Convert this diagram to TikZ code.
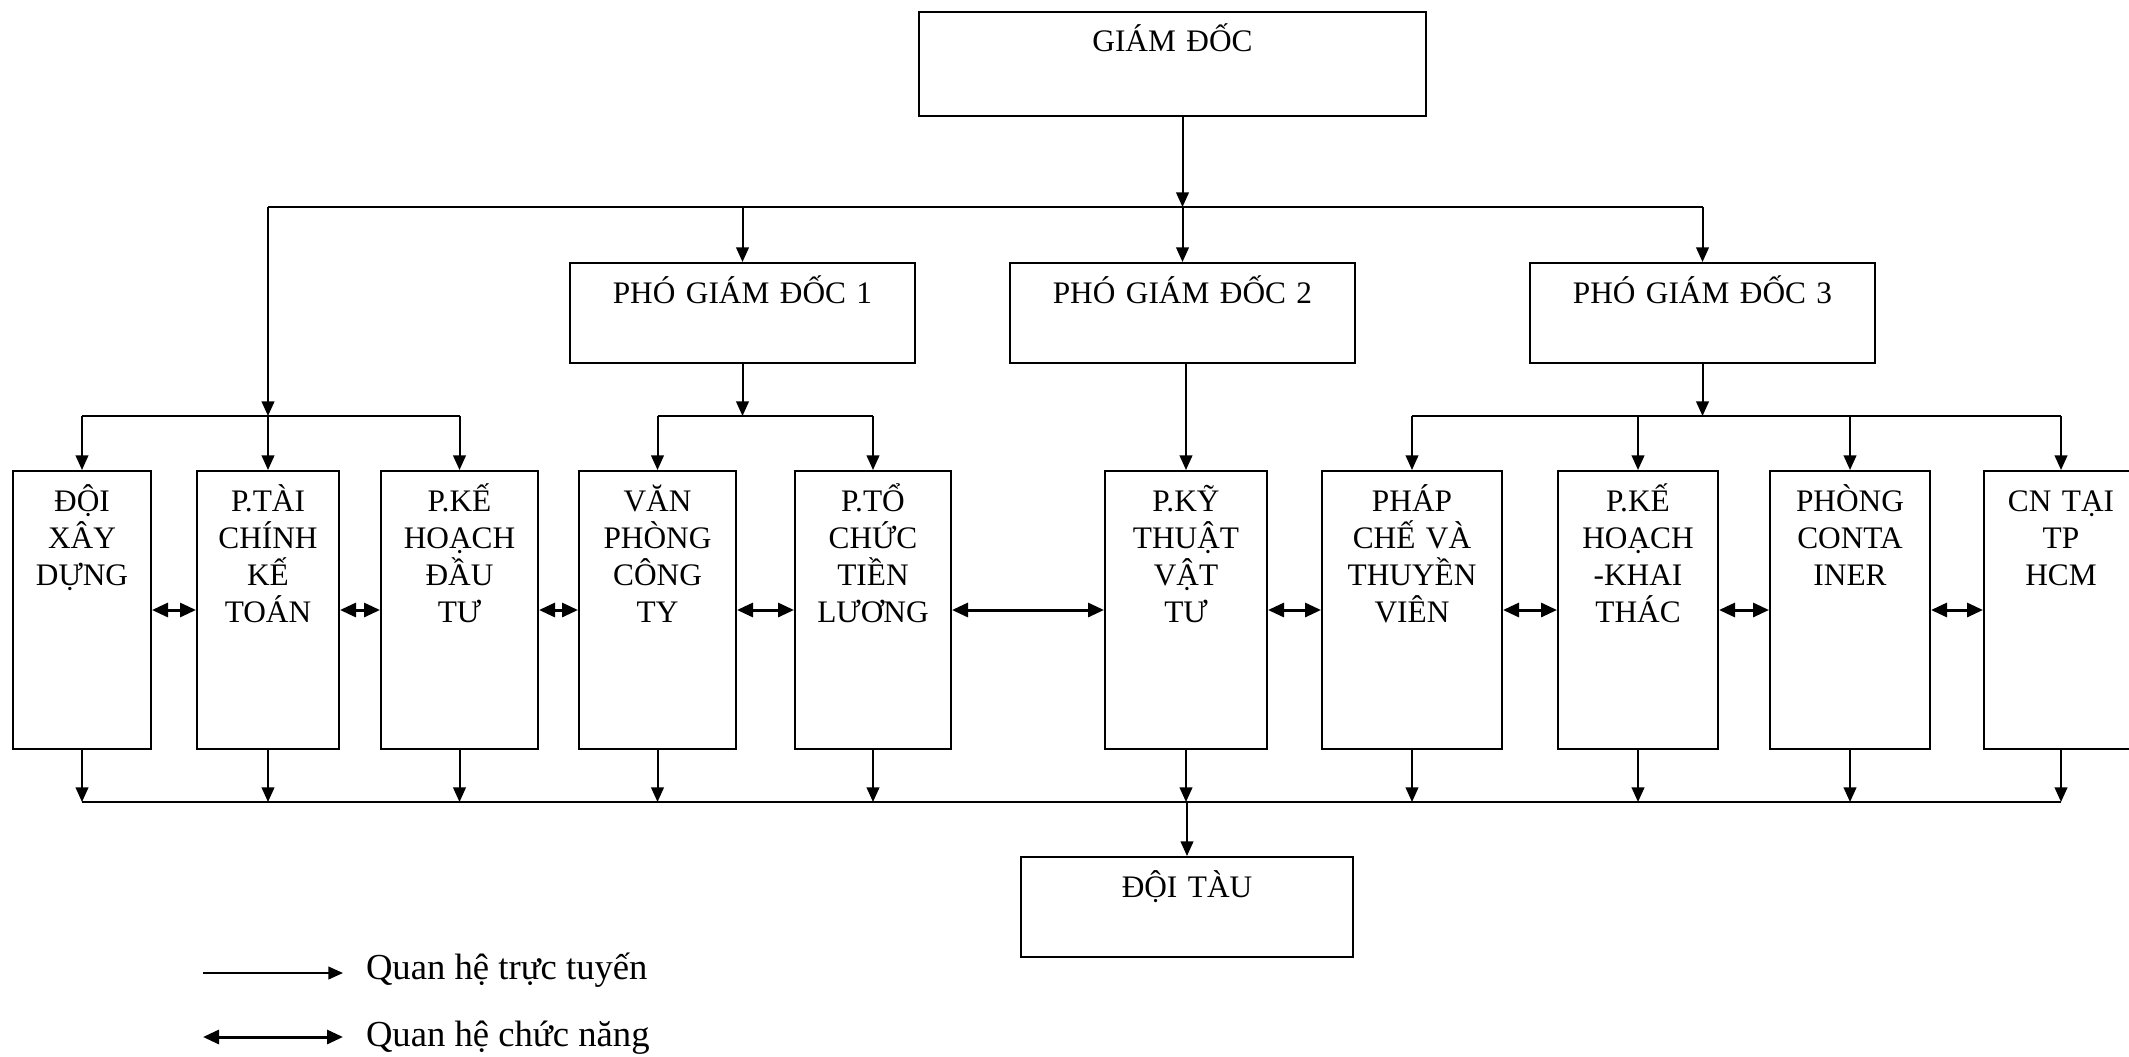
\documentclass[tikz,border=0pt]{standalone}
\usepackage{fontspec}
\setmainfont{Liberation Serif}
\usetikzlibrary{arrows.meta}

\tikzset{every picture/.style={line width=1.5pt}}
\tikzset{
  box/.style={draw, inner sep=0pt, align=center, anchor=north west, text height=30pt,
    font=\fontsize{23.5pt}{27.75pt}\selectfont},
  pgdbox/.style={box, text depth=45pt},
  deptbox/.style={box, text depth=178.5pt},
  direct/.style={-{Triangle[length=11pt,width=9.5pt]}},
  func/.style={{Triangle[length=12pt,width=10.5pt]}-{Triangle[length=12pt,width=10.5pt]}, line width=2.25pt},
  legtext/.style={anchor=base west, inner sep=0pt, font=\fontsize{27.5pt}{33pt}\selectfont},
}

\begin{document}
\begin{tikzpicture}[x=0.75pt,y=0.75pt,yscale=-1,xscale=1]
\useasboundingbox (0,0) rectangle (2129,1056);

%Boxes: ban giam doc
\draw (918,11) node (gd) [box, text width=380.25pt, text depth=48pt] {GIÁM ĐỐC};
\draw (569,262) node (pgd1) [pgdbox, text width=258.75pt] {PHÓ GIÁM ĐỐC 1};
\draw (1009,262) node (pgd2) [pgdbox, text width=258.75pt] {PHÓ GIÁM ĐỐC 2};
\draw (1529,262) node (pgd3) [pgdbox, text width=258.75pt] {PHÓ GIÁM ĐỐC 3};

%Boxes: phong ban
\draw (12,470) node (dxd) [deptbox, text width=103.5pt] {ĐỘI\\XÂY\\DỰNG};
\draw (196,470) node (tckt) [deptbox, text width=106.5pt] {P.TÀI\\CHÍNH\\KẾ\\TOÁN};
\draw (380,470) node (khdt) [deptbox, text width=117.75pt] {P.KẾ\\HOẠCH\\ĐẦU\\TƯ};
\draw (578,470) node (vp) [deptbox, text width=117.75pt] {VĂN\\PHÒNG\\CÔNG\\TY};
\draw (794,470) node (tc) [deptbox, text width=117pt] {P.TỔ\\CHỨC\\TIỀN\\LƯƠNG};
\draw (1104,470) node (kt) [deptbox, text width=121.5pt] {P.KỸ\\THUẬT\\VẬT\\TƯ};
\draw (1321,470) node (pc) [deptbox, text width=135pt] {PHÁP\\CHẾ VÀ\\THUYỀN\\VIÊN};
\draw (1557,470) node (khkt) [deptbox, text width=120pt] {P.KẾ\\HOẠCH\\-KHAI\\THÁC};
\draw (1769,470) node (cont) [deptbox, text width=120pt] {PHÒNG\\CONTA\\INER};
\draw (1983,470) node (cn) [deptbox, text width=115.5pt] {CN TẠI\\TP\\HCM};

%Box: doi tau
\draw (1020,856) node (dt) [pgdbox, text width=249pt] {ĐỘI TÀU};

%Bus levels
\coordinate (bustop) at (0,207);
\coordinate (busmid) at (0,416);
\coordinate (busbot) at (0,802);

%Straight Lines: giam doc xuong
\draw [direct] (gd.south -| pgd2.north) -- (pgd2.north |- bustop);
\draw (tckt.north |- bustop) -- (pgd3.north |- bustop);
\foreach \n in {pgd1,pgd2,pgd3}
  \draw [direct] (\n.north |- bustop) -- (\n.north);
\draw [direct] (tckt.north |- bustop) -- (tckt.north |- busmid);

%Straight Lines: nhom trai
\draw (dxd.north |- busmid) -- (khdt.north |- busmid);
\foreach \n in {dxd,tckt,khdt}
  \draw [direct] (\n.north |- busmid) -- (\n.north);

%Straight Lines: pho giam doc 1
\draw [direct] (pgd1.south) -- (pgd1.south |- busmid);
\draw (vp.north |- busmid) -- (tc.north |- busmid);
\foreach \n in {vp,tc}
  \draw [direct] (\n.north |- busmid) -- (\n.north);

%Straight Lines: pho giam doc 2
\draw [direct] (kt.north |- pgd2.south) -- (kt.north);

%Straight Lines: pho giam doc 3
\draw [direct] (pgd3.south) -- (pgd3.south |- busmid);
\draw (pc.north |- busmid) -- (cn.north |- busmid);
\foreach \n in {pc,khkt,cont,cn}
  \draw [direct] (\n.north |- busmid) -- (\n.north);

%Double arrows: quan he chuc nang
\foreach \a/\b in {dxd/tckt,tckt/khdt,khdt/vp,vp/tc,tc/kt,kt/pc,pc/khkt,khkt/cont,cont/cn}
  \draw [func] (\a.east) -- (\b.west);

%Straight Lines: xuong doi tau
\foreach \n in {dxd,tckt,khdt,vp,tc,kt,pc,khkt,cont,cn}
  \draw [direct] (\n.south) -- (\n.south |- busbot);
\draw (dxd.south |- busbot) -- (cn.south |- busbot);
\draw [direct] (dt.north |- busbot) -- (dt.north);

%Legend
\coordinate (lga) at (203,973);
\coordinate (lgb) at (343,973);
\coordinate (lgc) at (203,1037);
\coordinate (lgd) at (343,1037);
\draw [direct] (lga) -- (lgb);
\draw [func] (lgc) -- (lgd);
\draw (365,979) node (lgt1) [legtext] {Quan hệ trực tuyến};
\draw (365,1046) node (lgt2) [legtext] {Quan hệ chức năng};

\end{tikzpicture}
\end{document}
